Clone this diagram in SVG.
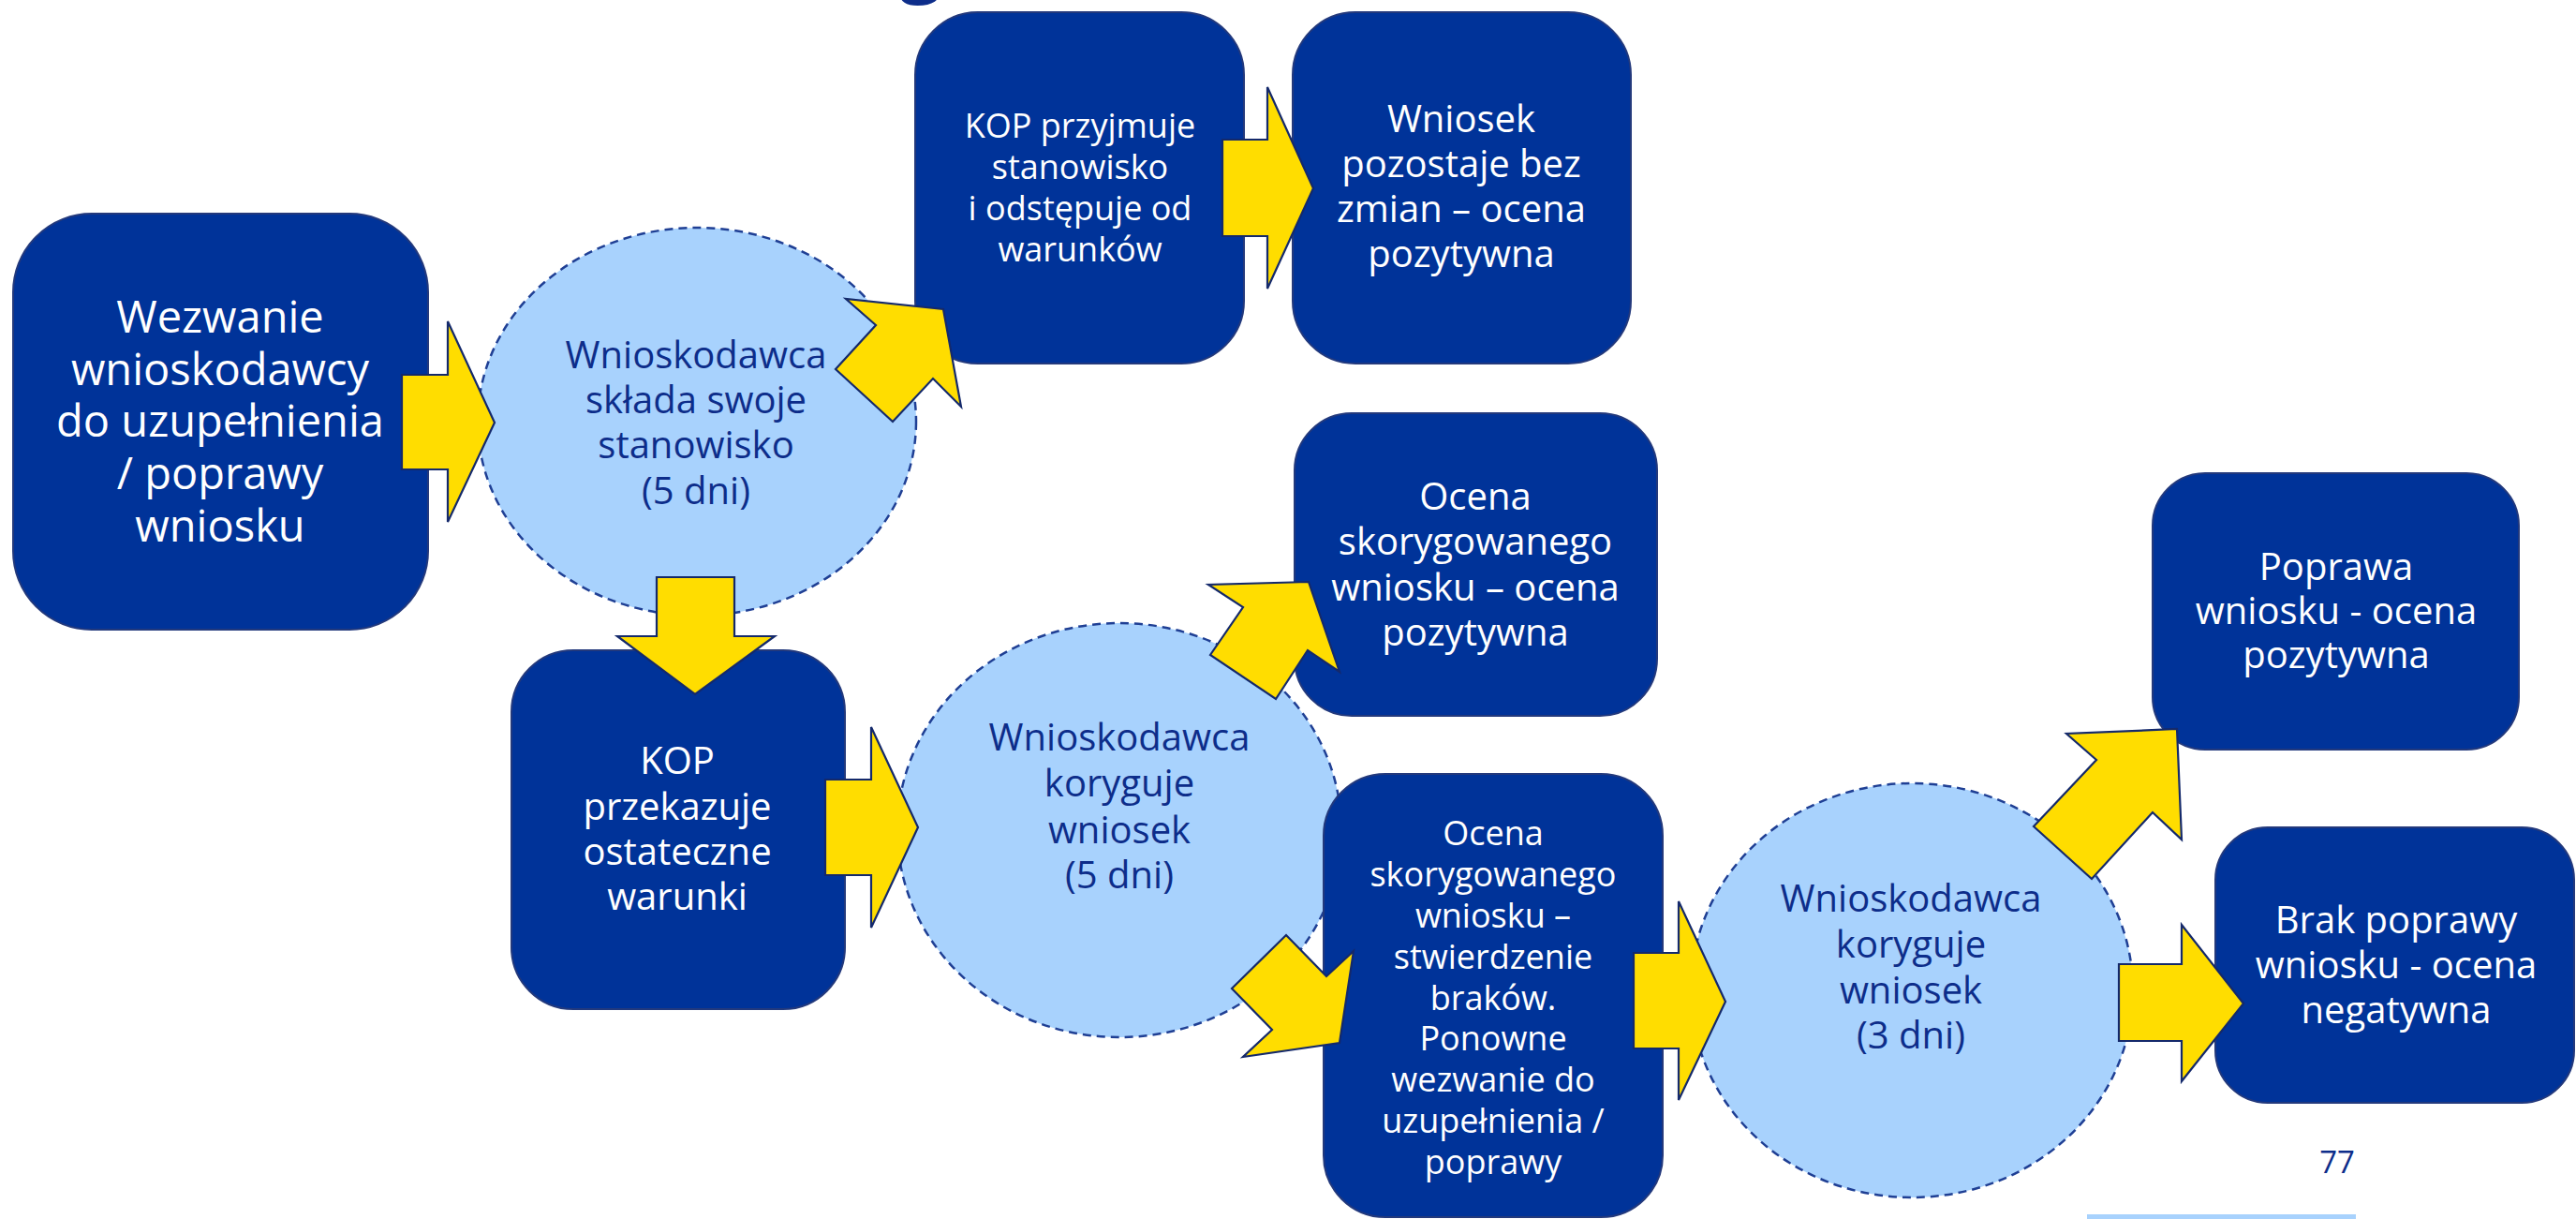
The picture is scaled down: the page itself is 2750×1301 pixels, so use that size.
<svg xmlns="http://www.w3.org/2000/svg" width="2750" height="1301" viewBox="0 0 2750 1301">
<style>
.box{fill:#003399;stroke:#23397c;stroke-width:2}
.ell{fill:#a8d2fd;stroke:#1f3f94;stroke-width:2.5;stroke-dasharray:9 6}
.arr{fill:#ffdd00;stroke:#14296b;stroke-width:2.2;stroke-linejoin:miter}
.wt{fill:#ffffff;font-family:'Open Sans','Noto Sans','DejaVu Sans',sans-serif;text-anchor:middle}
.bt{fill:#0d2d8a;font-family:'Open Sans','Noto Sans','DejaVu Sans',sans-serif;text-anchor:middle}
</style>
<rect width="2750" height="1301" fill="#ffffff"/>
<text x="983" y="-13" font-size="80" font-weight="bold" class="bt">g</text>

<g id="n-wezwanie">
<rect class="box" x="14" y="228" width="443" height="444" rx="84" ry="84"/>
<text class="wt" font-size="47"><tspan x="235" y="355">Wezwanie</tspan><tspan x="235" y="411">wnioskodawcy</tspan><tspan x="235" y="466">do uzupełnienia</tspan><tspan x="235" y="522">/ poprawy</tspan><tspan x="235" y="578">wniosku</tspan></text>
</g>

<g id="n-stanowisko">
<ellipse class="ell" cx="744" cy="450" rx="234" ry="207"/>
<text class="bt" font-size="40"><tspan x="743" y="393">Wnioskodawca</tspan><tspan x="743" y="441">składa swoje</tspan><tspan x="743" y="489">stanowisko</tspan><tspan x="743" y="538">(5 dni)</tspan></text>
</g>

<g id="n-kop-przyjmuje">
<rect class="box" x="977" y="13" width="351" height="375" rx="67" ry="67"/>
<text class="wt" font-size="36"><tspan x="1153" y="147">KOP przyjmuje</tspan><tspan x="1153" y="191">stanowisko</tspan><tspan x="1153" y="235">i odstępuje od</tspan><tspan x="1153" y="279">warunków</tspan></text>
</g>

<g id="n-bez-zmian">
<rect class="box" x="1380" y="13" width="361" height="375" rx="67" ry="67"/>
<text class="wt" font-size="40"><tspan x="1560" y="141">Wniosek</tspan><tspan x="1560" y="189">pozostaje bez</tspan><tspan x="1560" y="237">zmian – ocena</tspan><tspan x="1560" y="285">pozytywna</tspan></text>
</g>

<g id="n-kop-przekazuje">
<rect class="box" x="546" y="694" width="356" height="383" rx="66" ry="66"/>
<text class="wt" font-size="40"><tspan x="723" y="826">KOP</tspan><tspan x="723" y="875">przekazuje</tspan><tspan x="723" y="923">ostateczne</tspan><tspan x="723" y="971">warunki</tspan></text>
</g>

<g id="n-koryguje-5">
<ellipse class="ell" cx="1195" cy="886" rx="237" ry="221"/>
<text class="bt" font-size="40"><tspan x="1195" y="801">Wnioskodawca</tspan><tspan x="1195" y="850">koryguje</tspan><tspan x="1195" y="900">wniosek</tspan><tspan x="1195" y="948">(5 dni)</tspan></text>
</g>

<g id="n-ocena-pozytywna">
<rect class="box" x="1382" y="441" width="387" height="323" rx="61" ry="61"/>
<text class="wt" font-size="40"><tspan x="1575" y="544">Ocena</tspan><tspan x="1575" y="592">skorygowanego</tspan><tspan x="1575" y="641">wniosku – ocena</tspan><tspan x="1575" y="689">pozytywna</tspan></text>
</g>

<g id="n-ocena-braki">
<rect class="box" x="1413" y="826" width="362" height="473" rx="66" ry="66"/>
<text class="wt" font-size="36"><tspan x="1594" y="902">Ocena</tspan><tspan x="1594" y="946">skorygowanego</tspan><tspan x="1594" y="990">wniosku –</tspan><tspan x="1594" y="1034">stwierdzenie</tspan><tspan x="1594" y="1078">braków.</tspan><tspan x="1594" y="1121">Ponowne</tspan><tspan x="1594" y="1165">wezwanie do</tspan><tspan x="1594" y="1209">uzupełnienia /</tspan><tspan x="1594" y="1253">poprawy</tspan></text>
</g>

<g id="n-koryguje-3">
<ellipse class="ell" cx="2041" cy="1057" rx="236" ry="221"/>
<text class="bt" font-size="40"><tspan x="2040" y="973">Wnioskodawca</tspan><tspan x="2040" y="1022">koryguje</tspan><tspan x="2040" y="1071">wniosek</tspan><tspan x="2040" y="1119">(3 dni)</tspan></text>
</g>

<g id="n-poprawa">
<rect class="box" x="2298" y="505" width="391" height="295" rx="56" ry="56"/>
<text class="wt" font-size="40"><tspan x="2494" y="619">Poprawa</tspan><tspan x="2494" y="666">wniosku - ocena</tspan><tspan x="2494" y="713">pozytywna</tspan></text>
</g>

<g id="n-brak-poprawy">
<rect class="box" x="2365" y="883" width="383" height="294" rx="56" ry="56"/>
<text class="wt" font-size="40"><tspan x="2558" y="996">Brak poprawy</tspan><tspan x="2558" y="1044">wniosku - ocena</tspan><tspan x="2558" y="1092">negatywna</tspan></text>
</g>

<g id="connectors">
<polygon class="arr" points="429,400 478,400 478,343 528,451 478,557 478,501 429,501"/>
<polygon class="arr" points="892,394 935,347 903,319 1007,330 1026,434 996,404 953,450"/>
<polygon class="arr" points="1305,149 1353,149 1353,93 1402,201 1353,308 1353,252 1305,252"/>
<polygon class="arr" points="701,616 784,616 784,679 827,679 742,741 659,679 701,679"/>
<polygon class="arr" points="881,832 930,832 930,776 980,883 930,990 930,934 881,934"/>
<polygon class="arr" points="1292,699 1327,648 1290,624 1397,621 1430,717 1396,694 1362,746"/>
<polygon class="arr" points="1315,1055 1373,998 1416,1042 1445,1015 1430,1113 1327,1128 1358,1099"/>
<polygon class="arr" points="1744,1017 1792,1017 1792,962 1842,1069 1792,1174 1792,1119 1744,1119"/>
<polygon class="arr" points="2171,882 2238,811 2206,783 2324,778 2329,896 2298,867 2233,938"/>
<polygon class="arr" points="2262,1029 2329,1029 2329,987 2395,1071 2329,1154 2329,1111 2262,1111"/>
</g>

<text x="2495" y="1252" font-size="33" class="bt" fill="#1a2f6e">77</text>
<rect x="2228" y="1296" width="287" height="5" fill="#a8d2fd"/>
</svg>
